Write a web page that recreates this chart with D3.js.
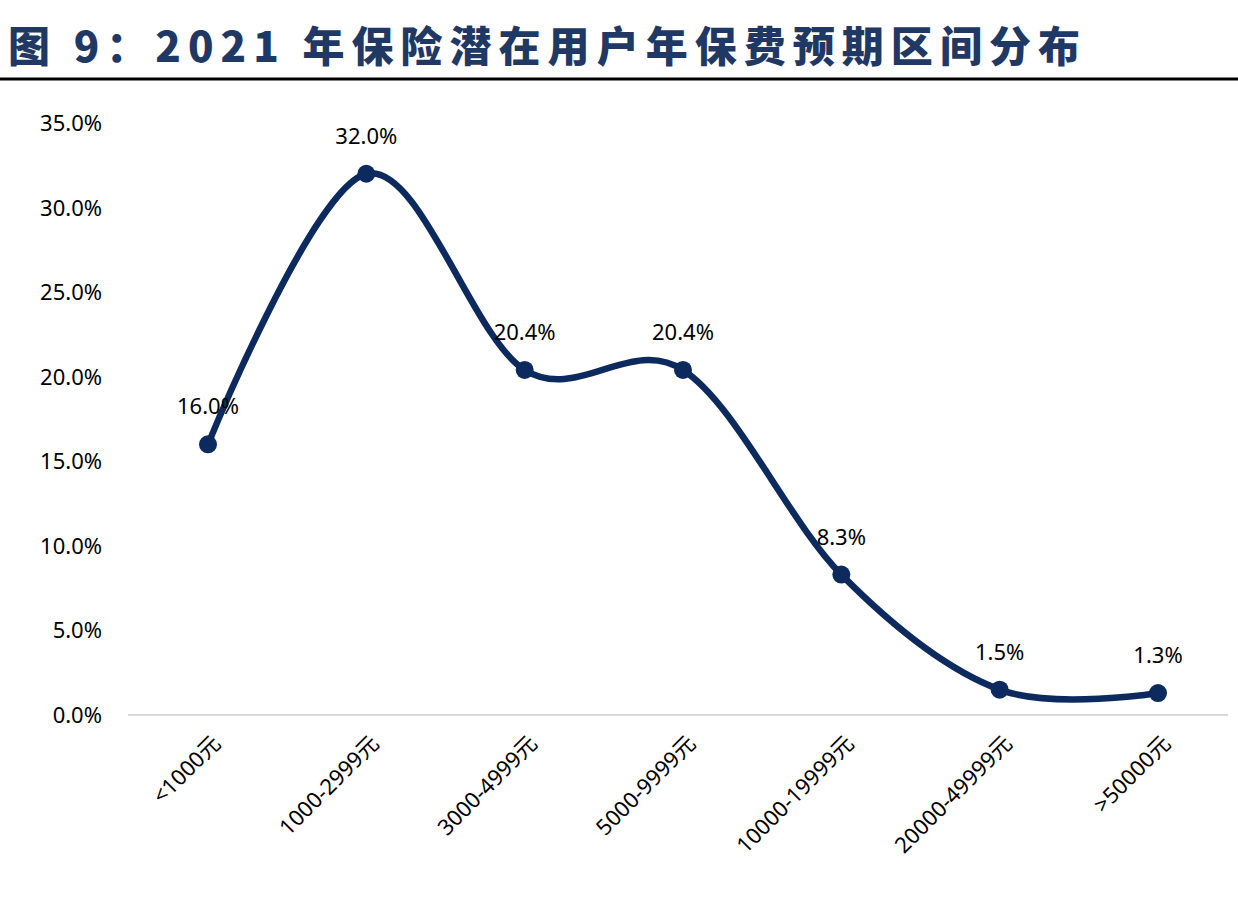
<!DOCTYPE html><html><head><meta charset="utf-8"><script src="https://cdn.jsdelivr.net/npm/d3@7"></script>
<style>body{margin:0;background:#fff}</style></head><body><svg id="c" width="1238" height="903"></svg>
<script>
const categories=["<1000元","1000-2999元","3000-4999元","5000-9999元","10000-19999元","20000-49999元",">50000元"];
const values=[16.0,32.0,20.4,20.4,8.3,1.5,1.3];
const yTicks=[0,5,10,15,20,25,30,35];
const title="图 9：2021 年保险潜在用户年保费预期区间分布";
const svg=d3.select("#c");
const font="'Noto Sans', 'Noto Sans CJK SC', sans-serif";
svg.append("text").attr("x",8).attr("y",62).attr("font-size",42).attr("font-weight","900")
 .attr("fill","#1f3864").attr("font-family","'Noto Sans CJK SC', sans-serif")
 .attr("textLength",1072).attr("lengthAdjust","spacing").text(title);
svg.append("line").attr("x1",0).attr("x2",1238).attr("y1",79).attr("y2",79).attr("stroke","#000").attr("stroke-width",3);
const x=d3.scalePoint().domain(categories).range([208,1158]);
const y=d3.scaleLinear().domain([0,35]).range([715,123]);
svg.append("line").attr("x1",128).attr("x2",1228).attr("y1",y(0)).attr("y2",y(0)).attr("stroke","#d9d9d9").attr("stroke-width",2);
svg.selectAll(".yt").data(yTicks).join("text").attr("x",102).attr("y",d=>y(d)+8).attr("text-anchor","end")
 .attr("font-size",22).attr("font-family",font).text(d=>d.toFixed(1)+"%");
svg.selectAll(".xt").data(categories).join("text").attr("text-anchor","end").attr("font-size",22).attr("font-family",font)
 .attr("transform",d=>`translate(${x(d)+14},${y(0)+30}) rotate(-45)`).text(d=>d);
const line=d3.line().x((d,i)=>x(categories[i])).y(d=>y(d)).curve(d3.curveCardinal.tension(0));
svg.append("path").datum(values).attr("d",line).attr("fill","none").attr("stroke","#0c2a5e").attr("stroke-width",6.5);
svg.selectAll(".pt").data(values).join("circle").attr("cx",(d,i)=>x(categories[i])).attr("cy",d=>y(d)).attr("r",9).attr("fill","#0c2a5e");
svg.selectAll(".lb").data(values).join("text").attr("x",(d,i)=>x(categories[i])).attr("y",d=>y(d)-30)
 .attr("text-anchor","middle").attr("font-size",22).attr("font-family",font).text(d=>d.toFixed(1)+"%");
</script></body></html>
